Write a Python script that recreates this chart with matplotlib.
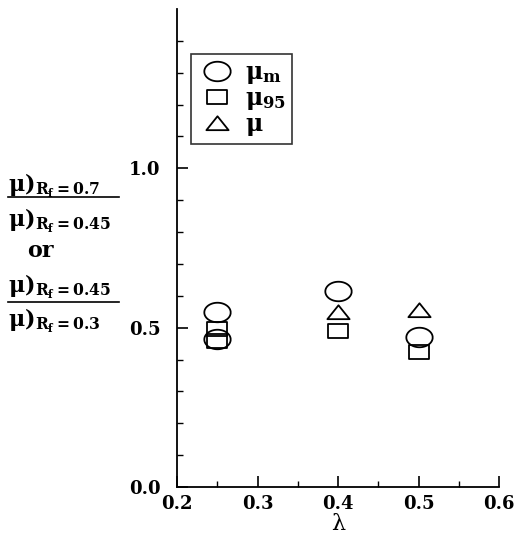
import numpy as np
import matplotlib.pyplot as plt
from matplotlib.path import Path
from matplotlib.lines import Line2D

plt.rcParams['font.family'] = 'DejaVu Serif'
plt.rcParams['font.weight'] = 'bold'
plt.rcParams['mathtext.fontset'] = 'custom'
plt.rcParams['mathtext.rm'] = 'DejaVu Serif:bold'
plt.rcParams['mathtext.it'] = 'DejaVu Serif:bold'
plt.rcParams['mathtext.bf'] = 'DejaVu Serif:bold'

# data
lam_m = [0.25, 0.25, 0.4, 0.5]
mu_m = [0.55, 0.465, 0.615, 0.471]
lam_95 = [0.25, 0.25, 0.4, 0.5]
mu_95 = [0.495, 0.458, 0.489, 0.424]
lam_mu = [0.4, 0.5]
mu_mu = [0.55, 0.555]

xticks = [0.2, 0.3, 0.4, 0.5, 0.6]
yticks = [0.0, 0.5, 1.0]

# flattened markers (ellipse, wide box, wide triangle)
t = np.linspace(0, 2*np.pi, 60)
ellipse = Path(np.column_stack([np.cos(t), 0.74*np.sin(t)]))
box = Path([(-1, -0.74), (1, -0.74), (1, 0.74), (-1, 0.74), (-1, -0.74)], closed=True)
tri = Path([(-1, -0.6), (1, -0.6), (0, 0.65), (-1, -0.6)], closed=True)

W, H = 517, 536
fig = plt.figure(figsize=(W/100, H/100), dpi=100)
ax = fig.add_axes([177/W, 1-487/H, 322/W, 478/H])

kw = dict(ls='none', mfc='none', mec='black', mew=1.3)
ax.plot(lam_m, mu_m, marker=ellipse, ms=19, label=r'$\mu_{m}$', **kw)
ax.plot(lam_95, mu_95, marker=box, ms=14, label=r'$\mu_{95}$', **kw)
ax.plot(lam_mu, mu_mu, marker=tri, ms=16, label=r'$\mu$', **kw)

ax.set_xlim(0.2, 0.6)
ax.set_ylim(0.0, 1.5)
ax.set_xticks(xticks)
ax.set_yticks(yticks)
ax.set_xticks(np.arange(0.25, 0.6, 0.1), minor=True)
ax.set_yticks([v for v in np.arange(0.1, 1.5, 0.1) if abs(v - 0.5) > 0.01 and abs(v - 1.0) > 0.01], minor=True)
ax.set_xticklabels([f'{v:.1f}' for v in xticks])
ax.set_yticklabels([f'{v:.1f}' for v in yticks])
ax.tick_params(direction='in', length=8, width=1.2, labelsize=13, pad=6)
ax.tick_params(axis='y', pad=12)
ax.tick_params(which='minor', direction='in', length=4, width=1)
for s in ['top', 'right']:
    ax.spines[s].set_visible(False)
for s in ['left', 'bottom']:
    ax.spines[s].set_linewidth(1.3)

ax.set_xlabel('λ', fontsize=16, labelpad=0)

leg = ax.legend(loc='upper left', bbox_to_anchor=(14/322, 1-45/478), fontsize=17,
                frameon=True, fancybox=False, edgecolor='black', handlelength=1.7,
                handletextpad=0.35, borderpad=0.25, labelspacing=0.0, borderaxespad=0)
leg.get_frame().set_linewidth(1.2)

# stacked ratio label on the left
def fy(py):
    return 1 - py/H

fs = 16
fig.text(8/W, fy(186), r'$\mu)_{R_f=0.7}$', fontsize=fs, va='center')
fig.add_artist(Line2D([8/W, 119/W], [fy(197), fy(197)], color='black', lw=1.2))
fig.text(8/W, fy(221), r'$\mu)_{R_f=0.45}$', fontsize=fs, va='center')
fig.text(40/W, fy(251), 'or', fontsize=fs, va='center', ha='center')
fig.text(8/W, fy(287), r'$\mu)_{R_f=0.45}$', fontsize=fs, va='center')
fig.add_artist(Line2D([8/W, 119/W], [fy(302), fy(302)], color='black', lw=1.2))
fig.text(8/W, fy(321), r'$\mu)_{R_f=0.3}$', fontsize=fs, va='center')

fig.savefig('out.png', dpi=100)
